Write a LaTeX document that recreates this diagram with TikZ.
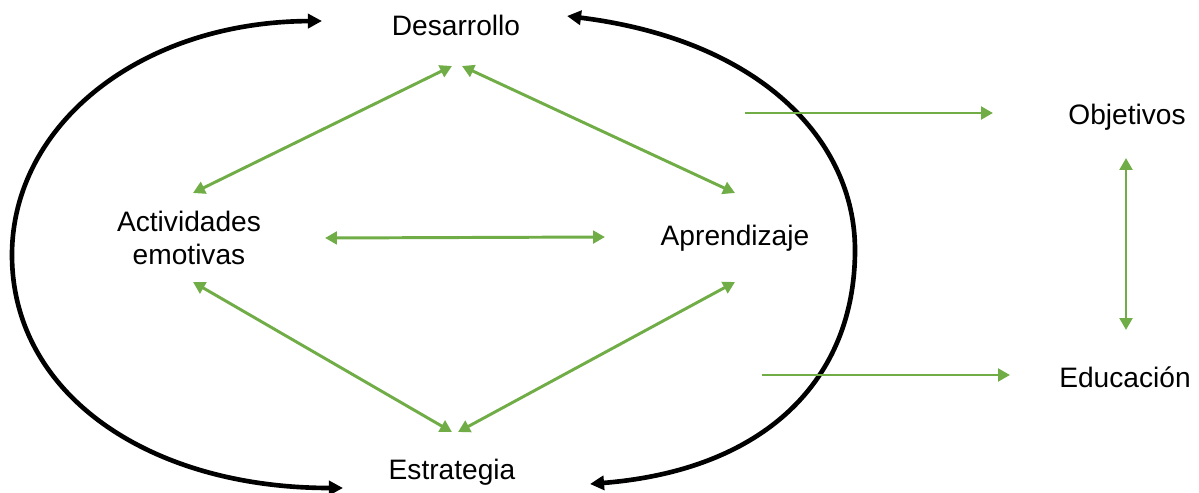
\documentclass[tikz,border=0pt]{standalone}
\usepackage{fontspec}
\setmainfont{Liberation Sans}
\usetikzlibrary{arrows.meta}
\definecolor{verde}{RGB}{112,173,71}
\tikzset{
	concepto/.style={inner sep=0pt, align=center, font=\fontsize{20}{24}\selectfont},
	flecha/.style={verde, line width=2.1pt, {Triangle[length=8.5pt,width=9pt]}-{Triangle[length=8.5pt,width=9pt]}},
	flechaun/.style={verde, line width=2.1pt, -{Triangle[length=8.5pt,width=9pt]}},
	ciclo/.style={black, line width=3.3pt, {Triangle[length=10pt,width=10pt]}-{Triangle[length=10pt,width=10pt]}}
}
\begin{document}
\begin{tikzpicture}[x=0.025cm, y=-0.025cm]
		\useasboundingbox (0,0) rectangle (1199,493);

		% Conceptos
		\node[concepto] (des) at (456,25) {Desarrollo};
		\node[concepto] (est) at (452,472) {Estrategia};
		\node[concepto] (act) at (189,238) {Actividades\\emotivas};
		\node[concepto] (apr) at (735,238) {Aprendizaje};
		\node[concepto] (obj) at (1127,117) {Objetivos};
		\node[concepto] (edu) at (1125,377) {Educación};

		% Inicio de las flechas hacia la derecha
		\coordinate (iniobj) at (745,113);
		\coordinate (iniedu) at (762,375);

		% Relaciones internas
		\draw[flecha] ([shift={(-4,41)}]des.center) -- ([shift={(4,-45)}]act.center);
		\draw[flecha] ([shift={(6,41)}]des.center) -- ([shift={(0,-45)}]apr.center);
		\draw[flecha] ([shift={(136,0)}]act.center) -- ([shift={(-130,-1)}]apr.center);
		\draw[flecha] ([shift={(4,44)}]act.center) -- ([shift={(0,-40)}]est.center);
		\draw[flecha] ([shift={(0,44)}]apr.center) -- ([shift={(6,-40)}]est.center);

		% Ciclo exterior
		\draw[ciclo] ([shift={(-134,-4)}]des.center) .. controls (140,22) and (12,125) .. (12,255)
			.. controls (12,395) and (150,488) .. ([shift={(-109,16)}]est.center);
		\draw[ciclo] ([shift={(111,-9)}]des.center) .. controls (760,40) and (855,140) .. (855,250)
			.. controls (855,380) and (765,470) .. ([shift={(138,12)}]est.center);

		% Lado derecho
		\draw[flechaun] (iniobj) -- ([shift={(-134,-4)}]obj.center);
		\draw[flechaun] (iniedu) -- ([shift={(-115,-2)}]edu.center);
		\draw[flecha] ([shift={(-1,41)}]obj.center) -- ([shift={(1,-47)}]edu.center);
	\end{tikzpicture}
\end{document}
